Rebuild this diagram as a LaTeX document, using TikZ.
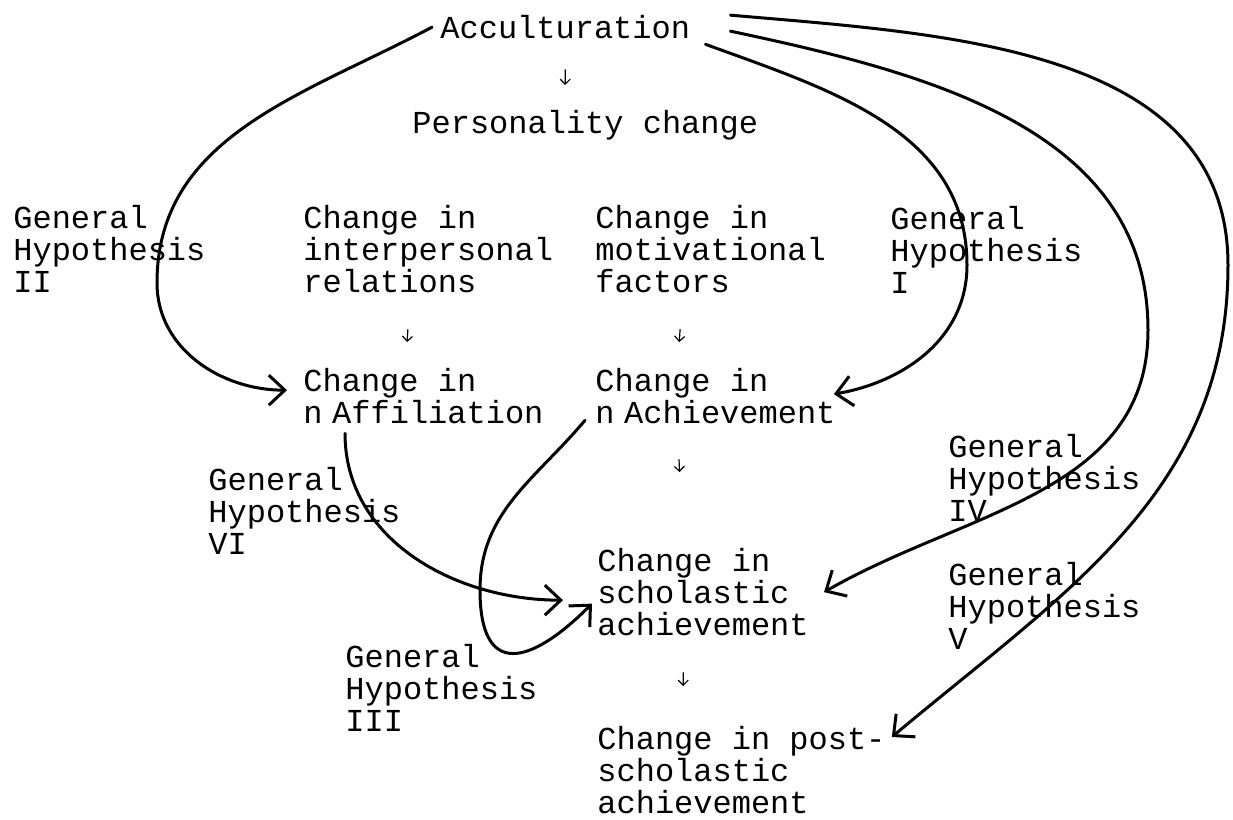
\documentclass[tikz,border=0pt]{standalone}
\usepackage{fontspec}
\usepackage{tikz}
\usetikzlibrary{arrows.meta}
\newfontfamily\typewriter{Liberation Mono}
\tikzstyle{txt}=[anchor=north west,inner sep=0pt,align=left,
  font=\typewriter\fontsize{16pt}{16pt}\selectfont]
\tikzstyle{hyp}=[line width=1.5pt,line cap=round,
  -{Straight Barb[length=8pt,width=15pt,line width=1.5pt]}]
\tikzstyle{flow}=[line width=0.6pt,-{Straight Barb[length=2.5pt,width=5pt]}]
\tikzstyle{none}=[inner sep=0pt]

\begin{document}
\begin{tikzpicture}[x=20pt,y=20pt]
            \useasboundingbox (0, 0) rectangle (30.825, -20.5);
            \node [style=txt] (0) at (11, -0.375) {Acculturation};
            \node [style=txt] (1) at (10.3, -2.75) {Personality change};
            \node [style=txt] (2) at (0.325, -5.125) {General\\Hypothesis\\II};
            \node [style=txt] (3) at (7.575, -5.125) {Change in\\interpersonal\\relations};
            \node [style=txt] (4) at (14.875, -5.125) {Change in\\motivational\\factors};
            \node [style=txt] (5) at (22.25, -5.15) {General\\Hypothesis\\I};
            \node [style=txt] (6) at (7.575, -9.2) {Change in\\n\hspace{0.3em}Affiliation};
            \node [style=txt] (7) at (14.875, -9.2) {Change in\\n\hspace{0.3em}Achievement};
            \node [style=txt] (8) at (14.925, -13.7) {Change in\\scholastic\\achievement};
            \node [style=txt] (9) at (14.925, -18.15) {Change in post-\\scholastic\\achievement};
            \node [style=txt] (10) at (5.2, -11.675) {General\\Hypothesis\\VI};
            \node [style=txt] (11) at (23.7, -10.85) {General\\Hypothesis\\IV};
            \node [style=txt] (12) at (23.7, -14.05) {General\\Hypothesis\\V};
            \node [style=txt] (13) at (8.625, -16.1) {General\\Hypothesis\\III};
            \node [style=none] (20) at (3.925, -7.075) {};
            \node [style=none] (21) at (24.175, -6.625) {};
            \node [style=none] (22) at (28.7, -8.25) {};
            \node [style=none] (23) at (30.7, -6.625) {};
            \node [style=none] (24) at (12, -14.75) {};
            \draw [style=flow, shorten <=15pt, shorten >=12.5pt] (0.south) to ([xshift=-10pt]1.north);
            \draw [style=flow, shorten <=18pt, shorten >=13pt] ([xshift=-9pt]3.south) to ([xshift=-9pt]6.north);
            \draw [style=flow, shorten <=18pt, shorten >=13pt] ([xshift=-14pt]4.south) to ([xshift=-19pt]7.north);
            \draw [style=flow, shorten <=17.5pt, shorten >=38pt] ([xshift=-19pt]7.south) to ([xshift=-10pt]8.north);
            \draw [style=flow, shorten <=18pt, shorten >=20pt] ([xshift=-10pt]8.south) to ([xshift=-29pt]9.north);
            \draw [style=hyp] ([xshift=-4pt]0.west) to [out=208, in=90] (20.center) to [out=-90, in=180] ([xshift=-8pt, yshift=3pt]6.west);
            \draw [style=hyp] ([xshift=7.5pt, yshift=-2.5pt]0.south east) to [out=-20, in=90] (21.center) to [out=-90, in=10] ([xshift=-1pt, yshift=1pt]7.east);
            \draw [style=hyp] ([xshift=20pt, yshift=-2pt]0.east) to [out=-12, in=90] (22.center) to [out=-90, in=30] ([xshift=7.5pt]8.east);
            \draw [style=hyp] ([xshift=20pt, yshift=6pt]0.east) to [out=-5, in=90] (23.center) to [out=-90, in=40] ([xshift=3pt, yshift=-5.5pt]9.north east);
            \draw [style=hyp] ([xshift=21pt, yshift=-4.5pt]6.south west) to [out=-90, in=180] ([xshift=-17pt, yshift=-4pt]8.west);
            \draw [style=hyp] ([xshift=-5pt, yshift=2pt]7.south west) to [out=230, in=90] (24.center) to [out=-90, in=225, looseness=2] ([xshift=-2.5pt, yshift=-5.75pt]8.west);
    \end{tikzpicture}
\end{document}
